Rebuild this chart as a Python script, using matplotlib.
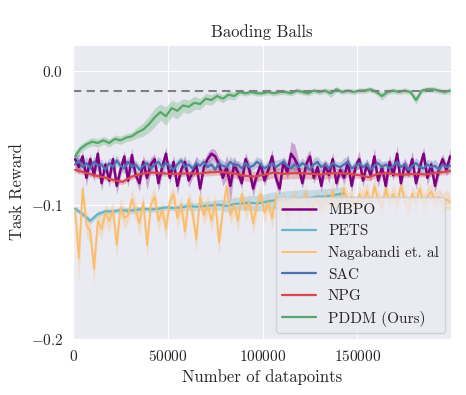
import numpy as np
import matplotlib
matplotlib.use('Agg')
import matplotlib.pyplot as plt
import seaborn as sns

# --- data ---
# MBPO, SAC, Nagabandi: one point every 2000 datapoints
x_dense = np.arange(1000, 200000, 2000)

mbpo = -0.001 * np.array([
    66, 72, 64, 80, 66, 78, 62, 84, 70, 82, 66, 86, 74, 64, 82, 63, 78, 84, 68, 80,
    70, 66, 84, 72, 62, 80, 68, 86, 74, 68, 82, 76, 70, 88, 72, 66, 62, 64, 70, 80,
    72, 86, 70, 76, 84, 66, 74, 88, 78, 70, 82, 74, 64, 80, 88, 68, 76, 62, 66, 72,
    84, 70, 64, 80, 72, 86, 70, 78, 66, 84, 74, 80, 68, 86, 72, 66, 82, 70, 78, 64,
    82, 72, 86, 68, 78, 62, 84, 70, 76, 66, 84, 72, 62, 80, 70, 86, 74, 66, 74, 64])
mbpo_std = 0.001 * np.array([
    6, 5, 4, 6, 4, 5, 5, 6, 4, 5, 4, 6, 5, 4, 5, 5, 4, 6, 5, 9,
    5, 4, 6, 5, 5, 4, 5, 6, 4, 5, 5, 4, 6, 5, 4, 5, 4, 5, 5, 6,
    9, 12, 6, 5, 4, 5, 5, 6, 4, 5, 4, 5, 5, 6, 5, 4, 5, 9, 11, 5,
    4, 6, 5, 4, 5, 5, 4, 6, 5, 5, 4, 5, 6, 5, 4, 6, 5, 4, 5, 6,
    5, 4, 7, 5, 4, 6, 5, 5, 4, 6, 5, 4, 5, 6, 4, 5, 5, 4, 5, 6])

sac = -0.001 * np.array([
    70, 67, 72, 69, 73, 68, 71, 70, 74, 69, 72, 67, 71, 73, 68, 72, 70, 74, 71, 69,
    73, 70, 68, 72, 69, 71, 74, 70, 67, 72, 70, 73, 69, 71, 68, 72, 70, 74, 69, 71,
    72, 68, 71, 70, 73, 69, 72, 71, 68, 70, 73, 71, 69, 72, 70, 68, 71, 73, 70, 72,
    69, 71, 74, 70, 68, 72, 70, 73, 69, 71, 72, 70, 68, 73, 71, 69, 72, 70, 74, 71,
    69, 72, 70, 73, 71, 68, 72, 70, 74, 71, 69, 72, 73, 70, 72, 71, 74, 70, 72, 71])
sac_std = 0.001 * np.array([
    6, 5, 4, 5, 3, 4, 5, 4, 3, 4, 5, 4, 3, 4, 4, 5, 3, 4, 4, 3,
    4, 3, 4, 5, 4, 3, 4, 4, 3, 4, 4, 3, 5, 4, 3, 4, 4, 3, 4, 4,
    3, 4, 4, 3, 4, 5, 4, 3, 4, 4, 3, 4, 4, 5, 4, 3, 4, 4, 3, 4,
    4, 3, 4, 5, 4, 4, 3, 4, 4, 3, 4, 5, 4, 3, 4, 4, 3, 4, 4, 3,
    4, 4, 3, 4, 5, 4, 3, 4, 4, 3, 4, 4, 3, 4, 4, 5, 4, 3, 4, 4])

nagabandi = -0.001 * np.array([
    104, 140, 88, 115, 120, 148, 112, 118, 106, 112, 104, 130, 102, 110, 108, 96, 104, 114, 98, 130,
    100, 94, 112, 104, 118, 98, 92, 110, 100, 120, 96, 106, 126, 94, 108, 100, 112, 98, 128, 104,
    86, 108, 100, 112, 92, 104, 98, 114, 100, 92, 106, 98, 110, 94, 102, 96, 108, 100, 94, 104,
    98, 92, 106, 100, 96, 104, 94, 100, 90, 102, 96, 88, 100, 94, 104, 92, 98, 90, 100, 86,
    96, 102, 88, 98, 92, 100, 86, 96, 104, 92, 98, 88, 100, 94, 90, 98, 94, 100, 96, 98])
nagabandi_std = 0.001 * np.array([
    4, 18, 8, 10, 8, 12, 9, 8, 7, 9, 6, 10, 7, 8, 6, 8, 7, 9, 6, 10,
    8, 7, 9, 6, 10, 7, 6, 8, 7, 9, 6, 8, 10, 6, 8, 7, 9, 6, 10, 7,
    6, 8, 7, 9, 6, 7, 6, 9, 7, 6, 8, 7, 9, 6, 7, 6, 8, 7, 6, 8,
    7, 6, 8, 7, 6, 8, 7, 6, 7, 8, 6, 7, 8, 6, 7, 6, 8, 7, 6, 7,
    6, 8, 7, 6, 7, 8, 6, 7, 8, 6, 7, 6, 8, 7, 6, 7, 6, 8, 7, 6])

# PETS: every 4000 datapoints, stops around 143k
x_pets = np.array([1000, 5000, 9000, 13000, 17000, 21000, 25000, 29000, 33000, 37000,
                   41000, 45000, 49000, 53000, 57000, 61000, 65000, 69000, 73000, 77000,
                   81000, 85000, 89000, 93000, 97000, 101000, 105000, 109000, 113000, 117000,
                   121000, 125000, 129000, 133000, 137000, 141000, 143000])
pets = -0.001 * np.array([
    103, 107, 112, 107, 105, 105, 104, 104.5, 104, 103,
    103.5, 103, 102, 102.5, 102, 101, 101.5, 101, 100.5, 100,
    101, 99.5, 99, 98.5, 99, 98, 97, 96.5, 96, 95.5,
    95, 95, 94, 94, 93, 92, 91.5])
pets_std = 0.001 * np.array([
    2, 2, 2.5, 2, 2, 2, 2, 2, 2.5, 2,
    2, 2.5, 2, 2, 3, 3, 3, 3.5, 3.5, 4,
    4.5, 5, 5, 5.5, 6, 6, 6.5, 6, 6.5, 6,
    6.5, 6, 5.5, 6, 5.5, 5, 5])

# NPG: every 5000 datapoints
x_npg = np.array([1000, 6000, 11000, 16000, 21000, 26000, 31000, 36000, 41000, 46000,
                  51000, 56000, 61000, 66000, 71000, 76000, 81000, 86000, 91000, 96000,
                  101000, 106000, 111000, 116000, 121000, 126000, 131000, 136000, 141000, 146000,
                  151000, 156000, 161000, 166000, 171000, 176000, 181000, 186000, 191000, 196000, 199000])
npg = -0.001 * np.array([
    74, 76, 78, 79.5, 81.5, 83, 79, 77, 76, 76.5,
    77, 77, 76.5, 77, 76, 75.5, 76, 77, 78.5, 79,
    77.5, 76, 77, 76.5, 76.5, 77, 77.5, 76.5, 76.5, 77,
    78, 79.5, 77, 76.5, 77.5, 77.5, 77, 77.5, 76.5, 75.5, 75])
npg_std = 0.001 * np.array([
    2, 2, 2, 2, 2, 2, 2, 2, 2, 2,
    2, 2, 2, 2, 2.5, 2.5, 3, 3.5, 4, 4,
    4, 4, 4, 4, 4, 4, 4, 3.5, 3, 3,
    2.5, 2.5, 2.5, 2, 2, 2, 2, 2, 2, 2, 2])

# PDDM (ours): every 3000 datapoints
x_pddm = np.arange(1000, 200000, 3000)
pddm = -0.001 * np.array([
    64, 58, 55, 53, 54, 52, 54, 51, 52, 50, 49, 46, 44, 40, 35, 31, 34, 28, 30, 26,
    27, 24, 25, 21, 22, 19, 21, 18, 19, 16, 17, 16, 17, 17, 16, 17, 16, 16, 17, 15,
    16, 17, 15, 16, 15, 17, 14, 16, 15, 16, 15, 15, 14, 16, 19, 16, 15, 16, 15, 16,
    22, 15, 14, 14, 15, 16, 15])
pddm_std = 0.001 * np.array([
    4, 3, 3, 3, 3, 3, 3, 3, 3, 3, 3, 4, 5, 6, 7, 6, 7, 6, 6, 5,
    5, 5, 4, 4, 4, 3, 3, 3, 3, 2, 2, 2, 2, 2, 2, 2, 2, 2, 2, 2,
    2, 2, 2, 2, 2, 3, 2, 2, 2, 2, 2, 2, 2, 2, 3, 2, 2, 2, 2, 2,
    3, 2, 2, 2, 2, 2, 2])

expert_level = -0.0155

# --- plot ---
sns.set_style('darkgrid')
plt.rcParams['font.family'] = 'serif'
plt.rcParams['font.serif'] = ['cmr10']
plt.rcParams['mathtext.fontset'] = 'cm'
plt.rcParams['axes.formatter.use_mathtext'] = True

fig = plt.figure(figsize=(4.66, 3.95), dpi=100)
ax = fig.add_axes([0.157, 0.142, 0.811, 0.744])

series = [
    ('MBPO', x_dense, mbpo, mbpo_std, '#800080', 1.8),
    ('PETS', x_pets, pets, pets_std, '#64B5CD', 1.6),
    ('Nagabandi et. al', x_dense, nagabandi, nagabandi_std, '#FCBC68', 1.3),
    ('SAC', x_dense, sac, sac_std, '#4C72B0', 1.6),
    ('NPG', x_npg, npg, npg_std, '#D6484B', 1.6),
    ('PDDM (Ours)', x_pddm, pddm, pddm_std, '#55A868', 1.6),
]
for name, xs, ys, sd, col, lw in series:
    ax.fill_between(xs, ys - sd, ys + sd, color=col, alpha=0.3, lw=0)
    ax.plot(xs, ys, color=col, lw=lw, label=name)

ax.axhline(expert_level, color='#808080', ls='--', lw=1.5, dashes=(4, 2.5))

ax.set_xlim(0, 199500)
ax.set_ylim(-0.2, 0.019)
ax.set_xticks([0, 50000, 100000, 150000])
ax.set_yticks([-0.2, -0.1, 0.0])
ax.ticklabel_format(axis='x', style='plain', useOffset=False)
ax.tick_params(labelsize=11)

ax.set_title('Baoding Balls', fontsize=12)
ax.set_xlabel('Number of datapoints', fontsize=12, labelpad=4)
ax.set_ylabel('Task Reward', fontsize=12)

ax.legend(loc='lower right', fontsize=11, frameon=True, framealpha=0.8,
          borderaxespad=0.4, handlelength=2.2)

fig.savefig('out.png', dpi=100)
